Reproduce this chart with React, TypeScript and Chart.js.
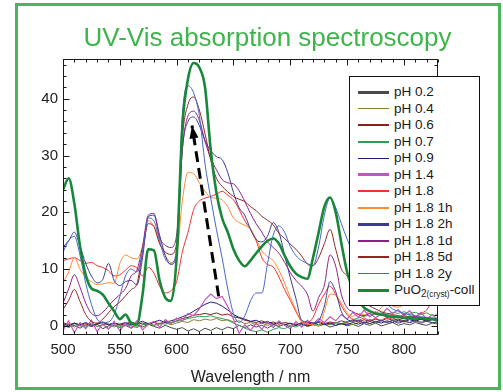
import React, { useEffect, useRef } from 'react';
import { Chart, registerables } from 'chart.js';

Chart.register(...registerables);

const FONT = "'Liberation Sans', Arial, Helvetica, sans-serif";

// wavelength axis (nm)
const WL = [
  500, 505, 510, 515, 520, 525, 530, 535, 540, 545,
  550, 555, 560, 565, 570, 575, 580, 585, 590, 595,
  600, 605, 610, 615, 620, 625, 630, 635, 640, 645,
  650, 655, 660, 665, 670, 675, 680, 685, 690, 695,
  700, 705, 710, 715, 720, 725, 730, 735, 740, 745,
  750, 755, 760, 765, 770, 775, 780, 785, 790, 795,
  800, 805, 810, 815, 820, 825, 830,
];

const PH_02 = [
  0.3, -0.2, 0.1, -0.4, 0.2, -0.1, 0.3, -0.5, 0.0, 0.2,
  -0.3, 0.1, -0.4, 0.2, -0.2, 0.3, -0.1, -0.4, 0.1, -0.3,
  -0.6, -0.3, -0.9, -0.5, -1.0, -0.4, -0.8, -0.3, -0.7, -0.2,
  -0.5, 0.1, -0.3, 0.2, -0.2, 0.1, -0.4, 0.2, -0.1, 0.3,
  -0.2, 0.1, 0.4, -0.1, 0.2, 0.0, 0.3, -0.2, 0.1, 0.4,
  0.0, 0.3, -0.1, 0.4, 0.1, 0.5, 0.0, 0.3, 0.6, 0.1,
  0.4, 0.2, 0.6, 0.3, 0.1, 0.5, 0.3,
];
const PH_04 = [
  0.1, 0.4, -0.2, 0.3, 0.0, 0.5, -0.1, 0.2, 0.4, -0.2,
  0.3, 0.0, 0.4, -0.1, 0.2, 0.5, 0.1, 0.3, 0.6, 0.2,
  0.5, 0.8, 0.6, 1.1, 0.9, 1.2, 1.0, 1.3, 0.9, 1.1,
  0.7, 0.9, 0.4, 0.6, 0.2, 0.5, 0.1, 0.4, 0.0, 0.3,
  0.1, 0.4, 0.0, 0.3, 0.5, 0.1, 0.4, 0.2, 0.6, 0.3,
  0.5, 0.2, 0.6, 0.4, 0.8, 0.5, 0.9, 0.6, 1.0, 0.7,
  0.9, 0.6, 1.0, 0.7, 0.9, 0.5, 0.8,
];
const PH_06 = [
  0.6, 0.2, 0.5, 0.1, 0.4, -0.1, 0.3, 0.6, 0.2, 0.5,
  0.1, 0.4, 0.7, 0.3, 0.5, 0.2, 0.6, 0.4, 0.8, 0.5,
  0.9, 1.3, 1.5, 1.9, 2.0, 2.2, 2.0, 2.3, 1.9, 2.1,
  1.6, 1.4, 1.0, 0.8, 0.6, 0.9, 0.4, 0.7, 0.3, 0.6,
  0.4, 0.2, 0.6, 0.3, 0.5, 0.8, 0.4, 0.7, 0.5, 0.9,
  0.6, 1.0, 0.7, 1.1, 0.8, 1.2, 0.9, 1.3, 1.0, 1.2,
  0.9, 1.3, 1.0, 1.2, 0.8, 1.1, 0.9,
];
const PH_07 = [
  0.2, -0.3, 0.4, 0.0, -0.2, 0.3, -0.1, 0.2, -0.4, 0.1,
  -0.2, 0.3, 0.0, -0.3, 0.2, 0.4, 0.1, 0.5, 0.3, 0.6,
  0.8, 1.0, 1.3, 1.5, 1.7, 1.6, 1.8, 1.5, 1.3, 1.0,
  0.5, 0.1, -0.4, -0.8, -1.0, -0.7, -1.1, -0.6, -0.3, -0.5,
  0.0, -0.2, 0.3, 0.1, 0.4, 0.2, 0.5, 0.3, 0.6, 0.4,
  0.8, 1.1, 1.4, 1.7, 1.9, 2.1, 2.3, 2.0, 2.4, 2.2,
  2.5, 2.2, 2.4, 2.0, 2.3, 1.8, 2.0,
];
const PH_09 = [
  0.4, 0.0, 0.5, 0.2, 0.6, 0.1, 0.4, 0.7, 0.2, 0.5,
  0.3, 0.6, 0.2, 0.5, 0.8, 0.4, 0.7, 1.0, 0.6, 0.9,
  1.2, 1.6, 2.0, 2.6, 3.2, 3.8, 4.2, 4.0, 3.5, 2.8,
  2.0, 1.5, 1.2, 0.8, 1.0, 0.5, 0.8, 0.3, 0.6, 0.2,
  0.5, 0.1, 0.4, 0.0, 0.3, 0.6, 0.2, 0.5, 0.1, 0.4,
  0.2, 0.6, 0.3, 0.7, 0.4, 0.8, 0.5, 0.9, 0.6, 1.0,
  0.7, 1.1, 0.8, 1.2, 0.9, 1.3, 1.0,
];
const PH_14 = [
  -0.8, 0.9, -1.2, 0.6, -0.5, 1.0, -1.0, 0.4, -0.6, 0.8,
  -0.9, 0.5, -0.4, 0.9, -0.7, 0.3, 0.8, -0.2, 1.1, 0.4,
  1.4, 0.9, 2.2, 1.8, 3.0, 4.6, 5.6, 4.8, 5.2, 3.4,
  1.2, -1.3, 0.2, -0.8, 0.5, -0.6, 0.7, -0.3, 0.9, 0.1,
  -0.5, 0.8, -0.2, 1.0, 0.3, 1.3, 0.6, 1.6, 0.9, 2.0,
  1.2, 2.4, 1.5, 2.8, 1.6, 2.5, 1.9, 3.1, 2.2, 2.9,
  1.8, 2.7, 1.5, 2.4, 1.2, 2.0, 1.0,
];
const PH_18 = [
  11.5, 11.8, 12, 11.5, 11, 11.2, 10.6, 10.3, 9.7, 8.8,
  9, 9.8, 10.6, 10.2, 8.8, 10.3, 9.3, 7, 5.8, 6.2,
  7.8, 13, 16.5, 20.5, 22, 22.5, 22.8, 23.2, 23.7, 23,
  22.2, 20.5, 18.5, 17, 15, 12, 10.8, 10.4, 8.6, 6.4,
  4.5, 2.5, 0.8, 0.5, 1.5, 3.8, 5.6, 7, 5.5, 3.5,
  2, 1.2, 1.0, 1.4, 0.9, 1.3, 1.0, 1.5, 1.2, 1.6,
  1.3, 1.8, 1.5, 2.2, 2.8, 4.5, 5.5,
];
const PH_18_1H = [
  7.6, 9.5, 12, 10, 8.6, 7.8, 7.3, 7.4, 7.6, 7.5,
  11, 12.5, 12, 11.8, 14, 18.5, 17.5, 14.5, 12.4, 11.2,
  12.4, 22, 27, 26.8, 25.2, 23.7, 22.6, 22.5, 22.2, 21,
  19, 18.2, 17.7, 17.1, 15.3, 13.2, 12.2, 11.5, 9.8, 7.6,
  5, 2.8, 0.8, 0.3, 0.2, 0, 2.6, 5.6, 5.4, 4,
  2.3, 1.7, 2.2, 2.0, 2.5, 2.3, 3.2, 4.2, 3.5, 3.3,
  3.8, 4.2, 3.8, 4.5, 4, 5, 4.5,
];
const PH_18_2H = [
  13.9, 15, 16.5, 14, 11, 8.8, 7.6, 8.2, 11, 8,
  7.1, 7.8, 8, 7.2, 12, 19.2, 19.5, 16, 12.4, 10.8,
  12.4, 31, 36, 36.8, 35.3, 32.6, 30.9, 29.8, 29.3, 27,
  23.5, 20.8, 19.5, 17, 15.2, 14.8, 15.8, 18.2, 16.5, 12.5,
  8.5, 4.8, 1, 0.7, 0.5, 0.9, 3.5, 7.8, 6, 2.5,
  1.2, 0.8, 1.0, 0.6, 1.1, 0.7, 1.0, 0.6, 0.9, 0.5,
  0.8, 0.6, 0.9, 0.5, 0.8, 0.6, 0.7,
];
const PH_18_1D = [
  4, 6.5, 9, 6.8, 4, 2.2, 1.8, 2.4, 3.5, 4.6,
  5.5, 6.6, 8.8, 9.8, 14, 19.5, 19.8, 15.5, 14.2, 13.8,
  16, 31, 37, 37.8, 36.2, 32.5, 29.5, 27.5, 25.8, 25.2,
  25, 23.8, 21.9, 19.8, 18, 16.5, 14.8, 13.8, 12.8, 11.2,
  9.4, 8, 7, 5.6, 2.6, 5, 7.2, 12.5, 10.5, 5.5,
  3.2, 2.5, 2, 1.8, 2.2, 1.5, 2, 1.6, 1.8, 1.5,
  2, 1.4, 1.7, 1.3, 1.5, 1.2, 1.0,
];
const PH_18_5D = [
  2.9, 4.5, 6.4, 4.3, 2, 0.8, 0.5, 1.2, 2.3, 3.4,
  4.2, 5.3, 6.4, 7.4, 13, 18, 17.5, 14.5, 13, 12.6,
  14.5, 33, 39, 40.3, 38, 33.8, 29.2, 26, 24.6, 23.6,
  22.8, 22.3, 21.9, 21, 20.3, 19.3, 18.6, 17.8, 16.3, 15.4,
  14.4, 13.5, 12.3, 10.9, 10.6, 12, 14.5, 17, 13.5, 10,
  8.8, 7, 5.5, 4.5, 3.5, 3, 2.5, 2.2, 2, 1.8,
  1.6, 1.5, 1.4, 1.3, 1.2, 1.2, 1.1,
];
const PH_18_2Y = [
  13, 15, 15.8, 12.4, 7.5, 3.8, 1.2, 0.6, 0.7, 2,
  5.2, 8.8, 10, 9.5, 13, 19, 18.5, 15, 11.8, 11,
  13.6, 37, 42.3, 41, 37, 28.5, 22.5, 17, 12, 6.5,
  2.2, 0.6, 1.8, 4.4, 5.8, 5.8, 11, 16, 17.6, 16.5,
  14, 12.4, 11.5, 11, 10.6, 14, 19.5, 22.5, 20.8, 18,
  15.3, 13, 11, 9, 7, 5.5, 4.5, 3.8, 3, 2.6,
  2.2, 2, 1.8, 1.6, 1.5, 1.4, 1.3,
];
const PUO2_COLL = [
  24, 26, 21.5, 14, 9, 6.6, 6.2, 5.5, 4, 2.6,
  1.2, 2.0, 0.5, 0.3, 5.5, 13.5, 13.3, 8, 5, 4.4,
  12, 35, 43.5, 46.3, 45.5, 42, 31, 23.5, 19, 16.5,
  13.5, 11.5, 10.5, 11.5, 12.8, 14, 15, 15.4, 14.5, 12.4,
  10.5, 9.2, 8.6, 8.3, 12, 16.5, 21, 22.6, 20, 14.5,
  9.5, 6.5, 4.5, 3.2, 2.6, 2.2, 2.0, 1.8, 1.6, 1.6,
  1.4, 1.5, 1.3, 1.4, 1.2, 1.2, 1.0,
];

// dashed arrow (tail -> tip), in data units
const ARROW_WL = [637, 613.5];
const ARROW_VAL = [5.2, 35.3];

const X_MIN = 500;
const X_MAX = 830;
const Y_MIN = -1.6;
const Y_MAX = 47;
const X_TICKS = [500, 550, 600, 650, 700, 750, 800];
const Y_TICKS = [0, 10, 20, 30, 40];
const X_MINOR_STEP = 10;
const Y_MINOR_STEP = 2;

const SERIES = [
  { label: 'pH 0.2', values: PH_02, color: '#4a4a4a', width: 1, legendWidth: 3, smooth: false },
  { label: 'pH 0.4', values: PH_04, color: '#8a8030', width: 1, legendWidth: 1.3, smooth: false },
  { label: 'pH 0.6', values: PH_06, color: '#8e1d1d', width: 1, legendWidth: 1.6, smooth: false },
  { label: 'pH 0.7', values: PH_07, color: '#2f9e55', width: 1, legendWidth: 2, smooth: false },
  { label: 'pH 0.9', values: PH_09, color: '#1f1f78', width: 1, legendWidth: 1.3, smooth: false },
  { label: 'pH 1.4', values: PH_14, color: '#c455bf', width: 1.2, legendWidth: 3, smooth: false },
  { label: 'pH 1.8', values: PH_18, color: '#f53030', width: 1, legendWidth: 1.6, smooth: true },
  { label: 'pH 1.8 1h', values: PH_18_1H, color: '#ff8a30', width: 1, legendWidth: 1.6, smooth: true },
  { label: 'pH 1.8 2h', values: PH_18_2H, color: '#3b3b95', width: 1, legendWidth: 3, smooth: true },
  { label: 'pH 1.8 1d', values: PH_18_1D, color: '#8a2088', width: 1, legendWidth: 1.6, smooth: true },
  { label: 'pH 1.8 5d', values: PH_18_5D, color: '#8f2626', width: 1, legendWidth: 2, smooth: true },
  { label: 'pH 1.8 2y', values: PH_18_2Y, color: '#4466c8', width: 1, legendWidth: 1.3, smooth: true },
  { label: 'PuO2(cryst)-coll', values: PUO2_COLL, color: '#17883a', width: 2.6, legendWidth: 3, smooth: true },
];

const frameTicksPlugin = {
  id: 'frameTicks',
  afterDatasetsDraw(chart: any) {
    const { ctx, chartArea: a, scales } = chart;
    const xs = scales.x;
    const ys = scales.y;
    const L = Math.round(a.left) + 0.5;
    const R = Math.round(a.right) - 0.5;
    const T = Math.round(a.top) + 0.5;
    const B = Math.round(a.bottom) - 0.5;
    ctx.save();
    ctx.strokeStyle = '#1a1a1a';
    ctx.lineWidth = 1;
    ctx.strokeRect(L, T, R - L, B - T);
    ctx.beginPath();
    const nx = Math.round((X_MAX - X_MIN) / X_MINOR_STEP);
    for (let i = 0; i <= nx; i++) {
      const v = X_MIN + i * X_MINOR_STEP;
      const len = X_TICKS.includes(v) ? 6 : 3;
      const px = Math.round(xs.getPixelForValue(v)) + 0.5;
      ctx.moveTo(px, T);
      ctx.lineTo(px, T + len);
      ctx.moveTo(px, B);
      ctx.lineTo(px, B - len);
    }
    const ny = Math.floor(Y_MAX / Y_MINOR_STEP);
    for (let i = 0; i <= ny; i++) {
      const v = i * Y_MINOR_STEP;
      const len = Y_TICKS.includes(v) ? 6 : 3;
      const py = Math.round(ys.getPixelForValue(v)) + 0.5;
      ctx.moveTo(L, py);
      ctx.lineTo(L + len, py);
      ctx.moveTo(R, py);
      ctx.lineTo(R - len, py);
    }
    ctx.stroke();
    ctx.restore();
  },
};

const arrowHeadPlugin = {
  id: 'arrowHead',
  afterDatasetsDraw(chart: any) {
    const idx = chart.data.datasets.findIndex((d: any) => d.isArrow);
    if (idx < 0) return;
    const pts = chart.getDatasetMeta(idx).data;
    if (pts.length < 2) return;
    const p0 = pts[0];
    const p1 = pts[1];
    const ang = Math.atan2(p1.y - p0.y, p1.x - p0.x);
    const len = 13;
    const half = 4.5;
    const { ctx } = chart;
    ctx.save();
    ctx.translate(p1.x, p1.y);
    ctx.rotate(ang);
    ctx.beginPath();
    ctx.moveTo(0, 0);
    ctx.lineTo(-len, -half);
    ctx.lineTo(-len, half);
    ctx.closePath();
    ctx.fillStyle = '#000';
    ctx.fill();
    ctx.restore();
  },
};

function LegendLabel({ label }: { label: string }) {
  if (label.startsWith('PuO2')) {
    return (
      <span>
        PuO
        <span style={{ fontSize: 10, position: 'relative', top: 3 }}>2</span>
        <span style={{ fontSize: 8.3, position: 'relative', top: 3 }}>(cryst)</span>
        -coll
      </span>
    );
  }
  return <span>{label}</span>;
}

export default function App() {
  const canvasRef = useRef<HTMLCanvasElement>(null);

  useEffect(() => {
    if (!canvasRef.current) return;
    Chart.defaults.font.family = FONT;

    const lineSets = SERIES.map((s, i) => ({
      label: s.label,
      data: WL.map((w, j) => ({ x: w, y: s.values[j] })),
      borderColor: s.color,
      backgroundColor: s.color,
      borderWidth: s.width,
      pointRadius: 0,
      tension: 0,
      cubicInterpolationMode: s.smooth ? 'monotone' : 'default',
      fill: false,
      order: s.label.startsWith('PuO2') ? 1 : 2 + (SERIES.length - i),
    }));

    const arrowSet = {
      label: 'arrow',
      isArrow: true,
      data: ARROW_WL.map((w, j) => ({ x: w, y: ARROW_VAL[j] })),
      borderColor: '#000',
      borderWidth: 3,
      borderDash: [11, 6],
      pointRadius: 0,
      fill: false,
      order: 0,
    };

    const chart = new Chart(canvasRef.current, {
      type: 'line',
      data: { datasets: [arrowSet as any, ...lineSets] },
      options: {
        animation: false,
        responsive: false,
        devicePixelRatio: 1,
        events: [],
        layout: { padding: { left: 0, right: 65, top: 59, bottom: 0 } },
        plugins: {
          legend: { display: false },
          title: { display: false },
          tooltip: { enabled: false },
        },
        scales: {
          x: {
            type: 'linear',
            min: X_MIN,
            max: X_MAX,
            grid: { display: false, drawTicks: false },
            border: { display: false },
            afterBuildTicks: (s: any) => {
              s.ticks = X_TICKS.map((v) => ({ value: v }));
            },
            afterFit: (s: any) => {
              s.height = 57;
            },
            ticks: {
              padding: 6,
              color: '#222',
              font: { size: 15, family: FONT },
              maxRotation: 0,
              autoSkip: false,
            },
            title: {
              display: true,
              text: 'Wavelength / nm',
              color: '#222',
              font: { size: 16, family: FONT },
              padding: { top: 0, bottom: 5 },
            },
          },
          y: {
            type: 'linear',
            min: Y_MIN,
            max: Y_MAX,
            grid: { display: false, drawTicks: false },
            border: { display: false },
            afterBuildTicks: (s: any) => {
              s.ticks = Y_TICKS.map((v) => ({ value: v }));
            },
            afterFit: (s: any) => {
              s.width = 63;
            },
            ticks: {
              padding: 5,
              color: '#222',
              font: { size: 15, family: FONT },
            },
          },
        },
      } as any,
      plugins: [frameTicksPlugin, arrowHeadPlugin],
    });

    return () => chart.destroy();
  }, []);

  return (
    <div
      style={{
        position: 'fixed',
        left: 0,
        top: 0,
        width: 503,
        height: 392,
        background: '#fff',
        overflow: 'hidden',
        fontFamily: FONT,
      }}
    >
      <canvas
        ref={canvasRef}
        width={503}
        height={392}
        style={{ position: 'absolute', left: 0, top: 0, width: 503, height: 392 }}
      />
      <div
        style={{
          position: 'absolute',
          left: 15,
          top: 3,
          width: 486,
          height: 387,
          boxSizing: 'border-box',
          border: '3px solid #4bb557',
          pointerEvents: 'none',
        }}
      />
      <div
        style={{
          position: 'absolute',
          left: 32,
          top: 24,
          width: 471,
          textAlign: 'center',
          fontSize: 26,
          lineHeight: '26px',
          color: '#3cb54a',
          whiteSpace: 'nowrap',
        }}
      >
        UV-Vis absorption spectroscopy
      </div>
      <div
        style={{
          position: 'absolute',
          left: 349,
          top: 76,
          width: 131,
          height: 230,
          boxSizing: 'border-box',
          border: '1px solid #111',
          background: '#fff',
          paddingTop: 7,
        }}
      >
        {SERIES.map((s) => (
          <div
            key={s.label}
            style={{
              display: 'flex',
              alignItems: 'center',
              height: 16.5,
              fontSize: 13.5,
              lineHeight: '16.5px',
              color: '#1a1a1a',
            }}
          >
            <div
              style={{
                marginLeft: 8,
                width: 31,
                height: s.legendWidth,
                background: s.color,
                flex: 'none',
              }}
            />
            <div style={{ marginLeft: 5, whiteSpace: 'nowrap' }}>
              <LegendLabel label={s.label} />
            </div>
          </div>
        ))}
      </div>
    </div>
  );
}
